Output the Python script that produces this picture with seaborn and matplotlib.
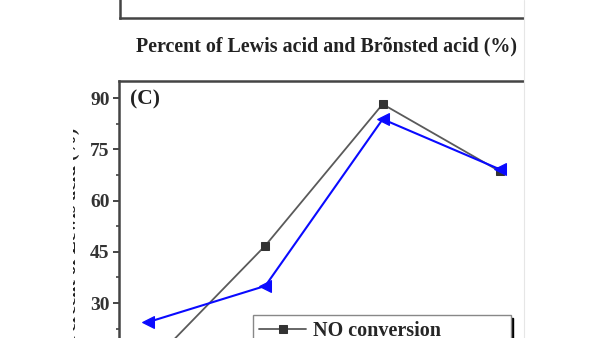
import matplotlib
matplotlib.use("Agg")
import matplotlib.pyplot as plt
import seaborn as sns
import pandas as pd
from matplotlib.ticker import MultipleLocator, NullLocator
from matplotlib.transforms import Bbox
from matplotlib.lines import Line2D

# ---- data ----
x_pos = [1, 2, 3, 4]
no_conversion = [11.5, 46.8, 88.2, 68.5]
lewis_percent = [24.4, 35.0, 83.8, 69.1]
series_labels = ["NO conversion", "Percent of Lewis acids"]
y_ticks = [0, 15, 30, 45, 60, 75, 90]
top_xlabel = "Percent of Lewis acid and Brõnsted acid (%)"
ylabel_text = "NO conversion and Percent of Lewis acid (%)"
panel_tag = "(C)"

sns.set_theme(style="ticks")
plt.rcParams["font.family"] = ["Liberation Serif", "DejaVu Serif"]
plt.rcParams["font.weight"] = "bold"

W, H = 600, 338
fig = plt.figure(figsize=(6, 3.38), dpi=100)
fig.patch.set_facecolor("white")

def fx(px):
    return px / W

def fy(py):
    return 1 - py / H

spine_col = "#444444"

# ---- top panel (only its lower edge is visible) ----
ax_top = fig.add_axes([fx(120), fy(18), fx(523) - fx(120), 0.3])
for s in ["top", "right"]:
    ax_top.spines[s].set_visible(False)
for s in ["left", "bottom"]:
    ax_top.spines[s].set_color(spine_col)
    ax_top.spines[s].set_linewidth(1.8)
ax_top.xaxis.set_major_locator(NullLocator())
ax_top.yaxis.set_major_locator(NullLocator())
ax_top.set_xlabel(top_xlabel, fontsize=14.4, fontweight="bold", color="#222222")
ax_top.xaxis.set_label_coords((327 - 120) / 403, -18 / (0.3 * H))

# ---- panel C ----
ylo, yhi = 0, 95
y90_px, y30_px = 98, 303
ppu = (y30_px - y90_px) / 60.0
top_px = y90_px - (yhi - 90) * ppu
bot_px = y30_px + (30 - ylo) * ppu
ax = fig.add_axes([fx(119), fy(bot_px), fx(523) - fx(119), (bot_px - top_px) / H])

df1 = pd.DataFrame({"x": x_pos, "y": no_conversion})
df2 = pd.DataFrame({"x": x_pos, "y": lewis_percent})
sns.lineplot(data=df1, x="x", y="y", ax=ax, color="#5a5a5a", lw=1.3,
             marker="s", markersize=6, markerfacecolor="#333333",
             markeredgecolor="#333333", label=series_labels[0])
sns.lineplot(data=df2, x="x", y="y", ax=ax, color="#0a0aff", lw=1.5,
             marker="<", markersize=8, markerfacecolor="#0a0aff",
             markeredgecolor="#0a0aff", label=series_labels[1])

ax.set_xlim(1 - 29 / 117.33, 4 + 23 / 117.33)
ax.set_ylim(ylo, yhi)
ax.set_yticks(y_ticks)
ax.yaxis.set_minor_locator(MultipleLocator(7.5))
ax.set_xticks(x_pos)
ax.set_xlabel("")
ax.set_ylabel("")
ax.spines["right"].set_visible(False)
for s in ["left", "top", "bottom"]:
    ax.spines[s].set_color(spine_col)
    ax.spines[s].set_linewidth(1.8)
ax.tick_params(axis="y", which="major", direction="out", length=4.5, width=1.4,
               color=spine_col, labelsize=14, labelcolor="#333333", pad=2.2)
ax.tick_params(axis="y", which="minor", direction="out", length=2.5, width=1.2,
               color=spine_col)
ax.tick_params(axis="x", direction="out", length=4.5, width=1.4, color=spine_col,
               labelsize=14)
for lab in ax.get_yticklabels():
    lab.set_fontweight("bold")

fig.text(fx(130), fy(99), panel_tag, fontsize=15.5, fontweight="bold",
         color="#222222", ha="left", va="center")

leg = ax.legend(loc="upper left", bbox_to_anchor=(fx(253), fy(315)),
                bbox_transform=fig.transFigure, borderaxespad=0,
                frameon=True, fancybox=False,
                shadow={"color": "black", "alpha": 1.0},
                prop={"size": 14.5, "weight": "bold"}, handlelength=2.35,
                borderpad=0.3, handletextpad=0.35, labelspacing=0.3)
leg.get_frame().set_edgecolor("#888888")
leg.get_frame().set_linewidth(1.0)

# y label, cropped at the left edge of the screenshot
yl = fig.text(fx(80), fy(128), ylabel_text, rotation=90, ha="right", va="top",
              fontsize=14, fontweight="bold", color="#222222")
yl.set_clip_on(True)
yl.set_clip_box(Bbox.from_extents(73.2, 0, W, H))

# faint screenshot edge on the right
fig.add_artist(Line2D([fx(523.5), fx(523.5)], [0, 1], color="#e6e6e6", lw=0.8,
                      transform=fig.transFigure))

fig.savefig("out.png", dpi=100)
